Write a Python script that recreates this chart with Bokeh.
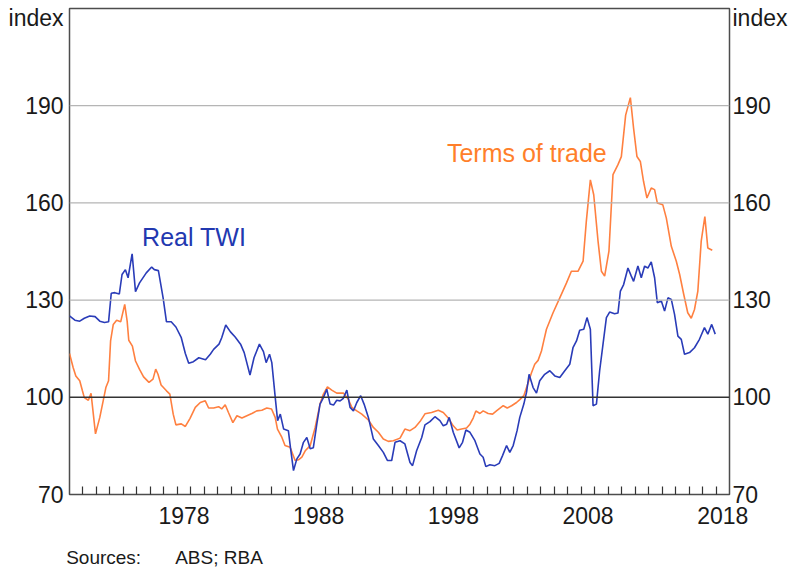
from bokeh.plotting import figure
from bokeh.models import FixedTicker, Span, Label, Range1d, LinearAxis
from bokeh.embed import file_html
from bokeh.resources import INLINE

# Real TWI (index)
twi_years = [1970.0, 1970.4, 1970.76, 1971.1, 1971.5, 1971.9, 1972.25, 1972.6, 1972.9, 1973.1,
             1973.36, 1973.7, 1973.9, 1974.15, 1974.35, 1974.65, 1974.9, 1975.2, 1975.7, 1976.1,
             1976.3, 1976.6, 1976.95, 1977.2, 1977.55, 1977.9, 1978.3, 1978.6, 1978.85, 1979.2,
             1979.6, 1980.1, 1980.45, 1980.7, 1981.1, 1981.3, 1981.6, 1981.95, 1982.3, 1982.7,
             1982.97, 1983.4, 1983.7, 1984.1, 1984.4, 1984.6, 1984.85, 1985.02, 1985.3, 1985.45,
             1985.65, 1985.9, 1986.25, 1986.4, 1986.63, 1986.88, 1987.12, 1987.37, 1987.62, 1987.87,
             1988.1, 1988.36, 1988.6, 1988.85, 1989.1, 1989.35, 1989.6, 1989.84, 1990.09, 1990.33,
             1990.59, 1990.83, 1991.08, 1991.33, 1991.62, 1991.87, 1992.19, 1992.56, 1992.93, 1993.3,
             1993.6, 1993.92, 1994.17, 1994.54, 1994.9, 1995.28, 1995.47, 1995.77, 1996.15, 1996.39,
             1996.76, 1997.13, 1997.5, 1997.75, 1998.0, 1998.19, 1998.49, 1998.93, 1999.18, 1999.43,
             1999.73, 2000.1, 2000.47, 2000.71, 2000.91, 2001.21, 2001.58, 2001.9, 2002.15, 2002.45,
             2002.69, 2002.94, 2003.23, 2003.43, 2003.73, 2003.93, 2004.12, 2004.42, 2004.67, 2004.91,
             2005.28, 2005.66, 2006.03, 2006.4, 2006.77, 2007.14, 2007.38, 2007.64, 2007.88, 2008.18,
             2008.42, 2008.67, 2008.87, 2009.12, 2009.36, 2009.61, 2009.86, 2010.1, 2010.47, 2010.72,
             2010.9, 2011.14, 2011.46, 2011.71, 2011.88, 2012.2, 2012.45, 2012.7, 2012.94, 2013.19,
             2013.44, 2013.64, 2013.94, 2014.18, 2014.43, 2014.68, 2014.92, 2015.17, 2015.42, 2015.66,
             2016.03, 2016.4, 2016.77, 2017.14, 2017.39, 2017.68, 2017.94]
twi_values = [125.1, 123.8, 123.5, 124.4, 125.1, 124.9, 123.5, 123.1, 123.3, 132.1,
              132.3, 131.9, 137.9, 139.4, 136.9, 144.3, 132.6, 135.3, 138.4, 140.2,
              139.4, 139.1, 130.7, 123.3, 123.3, 121.7, 118.4, 113.5, 110.5, 111.0,
              112.2, 111.6, 113.3, 114.8, 116.4, 118.4, 122.3, 120.2, 118.6, 116.4,
              113.8, 106.9, 112.2, 116.4, 114.1, 110.7, 113.3, 110.7, 98.9, 92.8,
              94.8, 90.2, 89.7, 84.6, 77.4, 81.0, 82.5, 86.1, 87.6, 84.1,
              84.4, 91.7, 97.9, 99.9, 102.5, 97.9, 97.6, 99.1, 98.9, 99.7,
              102.2, 96.9, 95.8, 98.4, 100.5, 97.9, 93.8, 87.1, 85.1, 83.0,
              80.5, 80.5, 86.1, 86.6, 85.6, 79.9, 78.9, 83.5, 87.6, 91.5,
              92.5, 94.0, 92.8, 91.2, 91.7, 93.8, 89.2, 84.4, 86.1, 89.9,
              89.2, 86.6, 82.5, 81.5, 78.6, 79.2, 78.9, 79.6, 82.0, 85.1,
              83.0, 85.1, 89.7, 93.8, 97.9, 101.5, 107.1, 103.0, 101.3, 105.1,
              107.1, 108.2, 106.6, 106.1, 108.2, 110.2, 115.3, 117.4, 120.7, 121.0,
              124.6, 121.0, 97.4, 97.9, 108.2, 116.4, 124.6, 126.3, 125.8, 126.0,
              132.8, 134.8, 139.9, 137.4, 135.8, 140.5, 136.9, 140.5, 139.9, 141.8,
              136.9, 129.2, 129.7, 126.6, 130.7, 130.2, 125.6, 118.9, 117.9, 113.3,
              113.8, 115.3, 117.9, 121.5, 119.5, 122.5, 119.5]

# Terms of trade (index)
tot_years = [1970.0, 1970.27, 1970.47, 1970.76, 1970.96, 1971.1, 1971.4, 1971.6, 1971.93, 1972.25,
             1972.5, 1972.7, 1972.9, 1973.05, 1973.25, 1973.5, 1973.8, 1974.1, 1974.28, 1974.4,
             1974.67, 1974.9, 1975.2, 1975.5, 1975.9, 1976.2, 1976.4, 1976.57, 1976.8, 1977.2,
             1977.45, 1977.7, 1977.9, 1978.3, 1978.6, 1978.95, 1979.34, 1979.71, 1980.08, 1980.33,
             1980.7, 1981.07, 1981.3, 1981.56, 1981.8, 1982.13, 1982.43, 1982.8, 1983.17, 1983.54,
             1983.9, 1984.28, 1984.65, 1985.0, 1985.27, 1985.44, 1985.77, 1986.0, 1986.38, 1986.75,
             1987.0, 1987.25, 1987.5, 1987.87, 1988.24, 1988.6, 1988.85, 1989.15, 1989.47, 1989.84,
             1990.33, 1990.7, 1990.96, 1991.33, 1991.7, 1992.19, 1992.56, 1992.93, 1993.3, 1993.67,
             1994.04, 1994.54, 1994.9, 1995.28, 1995.65, 1996.02, 1996.39, 1996.88, 1997.38, 1997.75,
             1998.12, 1998.49, 1998.78, 1999.11, 1999.48, 1999.73, 1999.97, 2000.17, 2000.47, 2000.71,
             2001.08, 2001.41, 2001.7, 2002.2, 2002.5, 2002.82, 2003.19, 2003.43, 2003.73, 2003.97,
             2004.3, 2004.54, 2004.79, 2005.04, 2005.21, 2005.41, 2005.9, 2006.4, 2006.9, 2007.26,
             2007.75, 2008.13, 2008.37, 2008.67, 2008.92, 2009.24, 2009.49, 2009.73, 2010.05, 2010.35,
             2010.72, 2010.97, 2011.29, 2011.64, 2011.88, 2012.13, 2012.38, 2012.62, 2012.87, 2013.19,
             2013.44, 2013.64, 2014.05, 2014.31, 2014.68, 2015.05, 2015.3, 2015.6, 2015.9, 2016.16,
             2016.4, 2016.65, 2016.9, 2017.17, 2017.39, 2017.72]
tot_values = [113.5, 109.2, 106.6, 105.1, 102.0, 99.9, 99.1, 101.2, 88.7, 93.8,
              98.9, 103.0, 105.1, 117.4, 122.5, 123.8, 123.3, 128.7, 123.5, 117.6,
              115.8, 111.2, 108.6, 106.3, 104.6, 105.6, 108.7, 107.1, 103.8, 102.0,
              101.0, 94.8, 91.5, 91.8, 91.0, 93.5, 96.9, 98.4, 98.9, 96.7,
              96.7, 97.1, 96.4, 97.7, 95.3, 92.2, 94.3, 93.6, 94.3, 95.0,
              95.8, 96.0, 96.7, 96.4, 93.8, 90.2, 87.6, 85.1, 84.6, 80.5,
              80.7, 81.5, 83.5, 85.1, 90.7, 97.9, 101.0, 103.2, 102.2, 101.3,
              101.3, 99.4, 96.9, 95.8, 94.8, 93.0, 90.7, 89.2, 87.1, 86.4,
              86.6, 87.4, 90.2, 89.7, 90.7, 92.5, 94.9, 95.3, 96.0, 95.3,
              93.6, 91.2, 89.9, 90.2, 90.5, 91.7, 93.6, 95.8, 95.0, 95.8,
              95.0, 94.8, 95.8, 97.4, 96.7, 97.4, 98.4, 99.3, 100.5, 103.5,
              107.6, 110.2, 111.4, 114.3, 117.4, 121.0, 126.1, 130.7, 135.3, 138.9,
              138.9, 142.0, 154.3, 167.1, 162.5, 148.2, 138.9, 137.4, 145.1, 168.7,
              171.8, 174.3, 187.1, 192.5, 183.0, 174.3, 172.8, 166.6, 161.5, 164.6,
              164.1, 160.0, 159.4, 155.3, 146.6, 142.0, 137.9, 131.8, 126.1, 124.4,
              127.1, 132.8, 148.2, 155.8, 146.1, 145.4]

y_ticks = [70, 100, 130, 160, 190]
grid_values = [130, 160, 190]
unit_label = "index"
year_labels = [1978, 1988, 1998, 2008, 2018]
minor_years = list(range(1971, 2019))
source_parts = ["Sources:", "ABS; RBA"]

BLUE = "#2a3cb8"
ORANGE = "#ff8040"
FONT = "Liberation Sans"
INDEX_POS = 217.2                 # unit label sits just under the top of the frame
SOURCE_POS = [1972.535, 1981.10]  # horizontal centres of the two source texts

p = figure(width=790, height=570, output_backend="svg", toolbar_location=None,
           x_range=Range1d(1970, 2019), y_range=Range1d(70, 220),
           y_axis_location=None, x_axis_location=None)
p.min_border_left = 69
p.min_border_right = 60
p.min_border_top = 8
p.min_border_bottom = 76
p.background_fill_color = "white"
p.border_fill_color = "white"
p.outline_line_color = "#4d4d4d"
p.outline_line_width = 1.5

# grid
p.xgrid.visible = False
p.ygrid.visible = False
for g in grid_values:
    p.add_layout(Span(location=g, dimension="width", line_color="#b5b5b5", line_width=1.2))
p.add_layout(Span(location=100, dimension="width", line_color="#333333", line_width=1.6))

# axes
def style_y(ax, standoff):
    ax.ticker = FixedTicker(ticks=y_ticks + [INDEX_POS])
    ax.major_label_overrides = {INDEX_POS: unit_label}
    ax.axis_line_color = None
    ax.major_tick_line_color = None
    ax.minor_tick_line_color = None
    ax.major_tick_in = 0
    ax.major_tick_out = 0
    ax.major_label_text_font = FONT
    ax.major_label_text_font_size = "23px"
    ax.major_label_text_color = "#1a1a1a"
    ax.major_label_standoff = standoff

yl = LinearAxis()
style_y(yl, 6)
p.add_layout(yl, "left")
yr = LinearAxis()
style_y(yr, 3)
p.add_layout(yr, "right")

xb = LinearAxis()
xb.ticker = FixedTicker(ticks=[y + 0.5 for y in year_labels], minor_ticks=minor_years)
xb.major_label_overrides = {y + 0.5: str(y) for y in year_labels}
xb.axis_line_color = None
xb.major_tick_line_color = None
xb.major_tick_in = 0
xb.major_tick_out = 0
xb.minor_tick_in = 8
xb.minor_tick_out = 0
xb.minor_tick_line_color = "#333333"
xb.minor_tick_line_width = 1.2
xb.major_label_text_font = FONT
xb.major_label_text_font_size = "23px"
xb.major_label_text_color = "#1a1a1a"
xb.major_label_standoff = 12
p.add_layout(xb, "below")

# sources line: a second, line-less axis below the year axis
xs = LinearAxis()
xs.ticker = FixedTicker(ticks=SOURCE_POS)
xs.major_label_overrides = {pos: txt for pos, txt in zip(SOURCE_POS, source_parts)}
xs.axis_line_color = None
xs.major_tick_line_color = None
xs.minor_tick_line_color = None
xs.major_tick_in = 0
xs.major_tick_out = 0
xs.major_label_text_font = FONT
xs.major_label_text_font_size = "19px"
xs.major_label_text_color = "#1a1a1a"
xs.major_label_standoff = 20
p.add_layout(xs, "below")

# series
p.line(tot_years, tot_values, line_color=ORANGE, line_width=1.6)
p.line(twi_years, twi_values, line_color=BLUE, line_width=1.6)

# in-chart series labels
p.add_layout(Label(x=1975.39, y=149.6, text="Real TWI", text_color="#2238b0",
                   text_font=FONT, text_font_size="25px", text_baseline="middle"))
p.add_layout(Label(x=1998.02, y=175.4, text="Terms of trade", text_color="#ff7f2a",
                   text_font=FONT, text_font_size="25px", text_baseline="middle"))

open("out.html", "w").write(file_html(p, INLINE))
